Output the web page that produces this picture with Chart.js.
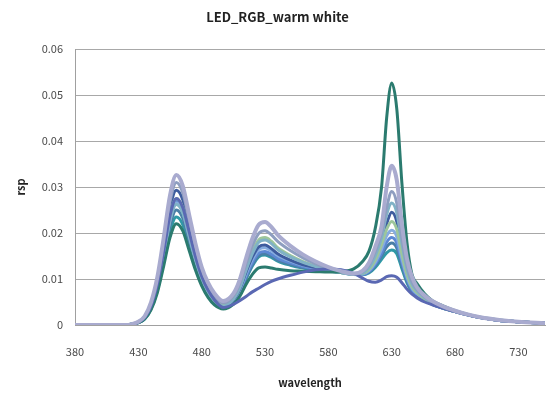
<!DOCTYPE html>
<html><head><meta charset="utf-8">
<script src="https://cdn.jsdelivr.net/npm/chart.js@4/dist/chart.umd.min.js"></script>
<style>html,body{margin:0;padding:0;background:#fff;}#wrap{width:550px;height:395px;}</style>
</head><body><div id="wrap"><canvas id="c" width="550" height="395"></canvas></div>
<script>
const wavelengths = [380,420,425,430,435,440,445,450,455,460,465,470,475,480,485,490,497,505,510,515,520,525,530,535,540,550,560,570,580,590,600,607,612,617,622,626,630,634,638,642,646,650,656,662,670,680,690,700,715,730,751];
const xTicks = [380,430,480,530,580,630,680,730];
const yTicks = [0,0.01,0.02,0.03,0.04,0.05,0.06];

const sLavender = [0,0,0.0002,0.0007,0.0019,0.0049,0.0104,0.0189,0.0282,0.0326,
0.0303,0.0241,0.0178,0.0126,0.0092,0.0069,0.0052,0.0068,0.0098,0.0145,
0.0188,0.0218,0.0224,0.0213,0.0196,0.0172,0.0153,0.0138,0.0126,0.0117,
0.0112,0.0118,0.0135,0.0170,0.0215,0.0300,0.0346,0.0315,0.0220,0.0145,
0.0105,0.0082,0.0064,0.0052,0.0041,0.0031,0.0023,0.0017,0.0011,0.0007,0.0004];
const sDarkTeal = [0,0,0.0001,0.0005,0.0013,0.0033,0.0070,0.0128,0.0190,0.0220,
0.0205,0.0163,0.0120,0.0085,0.0060,0.0044,0.0035,0.0045,0.0062,0.0088,
0.0110,0.0124,0.0126,0.0124,0.0121,0.0118,0.0117,0.0116,0.0115,0.0116,
0.0122,0.0138,0.0160,0.0210,0.0300,0.0450,0.0526,0.0470,0.0310,0.0180,
0.0110,0.0090,0.0068,0.0053,0.0042,0.0031,0.0023,0.0017,0.0011,0.0007,0.0004];
const sSlate = [0,0,0.0001,0.0006,0.0016,0.0041,0.0088,0.0160,0.0238,0.0275,
0.0256,0.0204,0.0150,0.0106,0.0076,0.0055,0.0038,0.0045,0.0053,0.0062,
0.0072,0.0080,0.0088,0.0095,0.0100,0.0108,0.0115,0.0120,0.0122,0.0120,
0.0112,0.0102,0.0095,0.0093,0.0098,0.0105,0.0107,0.0104,0.0092,0.0078,
0.0067,0.0059,0.0050,0.0044,0.0037,0.0029,0.0022,0.0016,0.0010,0.0007,0.0004];
const sGrayBlue = [0,0,0.0002,0.0007,0.0018,0.0047,0.0099,0.0180,0.0268,0.0310,
0.0288,0.0229,0.0169,0.0120,0.0086,0.0063,0.0048,0.0063,0.0090,0.0133,
0.0172,0.0199,0.0205,0.0196,0.0182,0.0162,0.0146,0.0133,0.0123,0.0115,
0.0111,0.0116,0.0130,0.0160,0.0200,0.0255,0.0290,0.0265,0.0190,0.0130,
0.0094,0.0077,0.0061,0.0050,0.0040,0.0030,0.0022,0.0016,0.0010,0.0007,0.0004];
const sNavy = [0,0,0.0002,0.0006,0.0017,0.0044,0.0094,0.0170,0.0254,0.0293,
0.0273,0.0217,0.0160,0.0113,0.0080,0.0057,0.0042,0.0055,0.0078,0.0115,
0.0148,0.0170,0.0174,0.0166,0.0155,0.0141,0.0131,0.0125,0.0120,0.0115,
0.0111,0.0113,0.0122,0.0145,0.0180,0.0220,0.0245,0.0225,0.0165,0.0115,
0.0086,0.0072,0.0058,0.0048,0.0039,0.0030,0.0022,0.0016,0.0010,0.0007,0.0004];
const sLightGreen = [0,0,0.0002,0.0006,0.0016,0.0041,0.0088,0.0160,0.0238,0.0275,
0.0256,0.0204,0.0150,0.0106,0.0076,0.0055,0.0043,0.0058,0.0083,0.0124,
0.0160,0.0185,0.0190,0.0182,0.0168,0.0151,0.0138,0.0128,0.0120,0.0114,
0.0110,0.0112,0.0120,0.0141,0.0175,0.0208,0.0225,0.0208,0.0155,0.0110,
0.0083,0.0070,0.0057,0.0047,0.0038,0.0029,0.0022,0.0016,0.0010,0.0007,0.0004];
const sTeal = [0,0,0.0001,0.0005,0.0013,0.0035,0.0075,0.0136,0.0203,0.0235,
0.0219,0.0174,0.0128,0.0090,0.0064,0.0047,0.0036,0.0048,0.0068,0.0100,
0.0128,0.0148,0.0152,0.0147,0.0139,0.0130,0.0124,0.0120,0.0117,0.0114,
0.0110,0.0109,0.0113,0.0125,0.0143,0.0157,0.0163,0.0155,0.0123,0.0092,
0.0072,0.0063,0.0053,0.0045,0.0037,0.0029,0.0022,0.0016,0.0010,0.0007,0.0004];
const sLightBlue = [0,0,0.0002,0.0006,0.0015,0.0040,0.0085,0.0154,0.0229,0.0265,
0.0246,0.0196,0.0144,0.0102,0.0073,0.0052,0.0040,0.0053,0.0075,0.0110,
0.0142,0.0164,0.0168,0.0161,0.0151,0.0139,0.0130,0.0124,0.0119,0.0114,
0.0110,0.0111,0.0118,0.0136,0.0165,0.0194,0.0206,0.0192,0.0145,0.0105,
0.0080,0.0068,0.0056,0.0047,0.0038,0.0029,0.0022,0.0016,0.0010,0.0007,0.0004];
const sMedBlue = [0,0,0.0002,0.0006,0.0015,0.0040,0.0086,0.0157,0.0234,0.0270,
0.0251,0.0200,0.0147,0.0104,0.0074,0.0053,0.0040,0.0052,0.0072,0.0106,
0.0136,0.0156,0.0160,0.0154,0.0145,0.0135,0.0127,0.0122,0.0118,0.0114,
0.0110,0.0110,0.0116,0.0132,0.0156,0.0180,0.0190,0.0178,0.0137,0.0100,
0.0077,0.0066,0.0055,0.0046,0.0038,0.0029,0.0022,0.0016,0.0010,0.0007,0.0004];
const sSteel = [0,0,0.0001,0.0005,0.0014,0.0037,0.0080,0.0145,0.0216,0.0250,
0.0233,0.0185,0.0136,0.0096,0.0068,0.0049,0.0038,0.0050,0.0070,0.0102,
0.0131,0.0151,0.0155,0.0150,0.0141,0.0132,0.0125,0.0121,0.0117,0.0114,
0.0110,0.0110,0.0115,0.0129,0.0150,0.0170,0.0178,0.0167,0.0130,0.0096,
0.0074,0.0064,0.0054,0.0045,0.0037,0.0029,0.0022,0.0016,0.0010,0.0007,0.0004];
const sCyanGray = [0,0,0.0002,0.0006,0.0015,0.0039,0.0084,0.0152,0.0227,0.0262,
0.0244,0.0194,0.0143,0.0101,0.0072,0.0052,0.0041,0.0056,0.0080,0.0119,
0.0155,0.0180,0.0185,0.0177,0.0164,0.0148,0.0136,0.0127,0.0119,0.0114,
0.0110,0.0113,0.0124,0.0150,0.0190,0.0240,0.0265,0.0244,0.0178,0.0122,
0.0089,0.0074,0.0059,0.0048,0.0039,0.0030,0.0022,0.0016,0.0010,0.0007,0.0004];

const seriesList = [
  {name:'s1', data:sLavender, color:'#a9abcf', w:4},
  {name:'s2', data:sSlate, color:'#5a68b3', w:3},
  {name:'s3', data:sDarkTeal, color:'#2b7b6f', w:3},
  {name:'s4', data:sGrayBlue, color:'#8e9ec0', w:3},
  {name:'s5', data:sCyanGray, color:'#80b2c6', w:3},
  {name:'s6', data:sLightGreen, color:'#9dc69b', w:3},
  {name:'s7', data:sNavy, color:'#3e5c9e', w:3},
  {name:'s8', data:sLightBlue, color:'#86acdf', w:3},
  {name:'s9', data:sMedBlue, color:'#5c88d4', w:3},
  {name:'s10', data:sSteel, color:'#4a7fa6', w:3},
  {name:'s11', data:sTeal, color:'#2f99a6', w:3}
];

const FONT = "'Noto Sans CJK KR','Open Sans',sans-serif";
const datasets = seriesList.map(s => ({
  label: s.name,
  data: wavelengths.map((x,i) => ({x:x, y:s.data[i]})),
  borderColor: s.color,
  backgroundColor: s.color,
  borderWidth: s.w,
  pointRadius: 0,
  cubicInterpolationMode: 'monotone',
  fill: false
}));

new Chart(document.getElementById('c'), {
  type: 'line',
  data: { datasets },
  options: {
    responsive: false,
    animation: false,
    layout: { padding: { left: 10, right: 5, top: 0, bottom: 0 } },
    plugins: {
      legend: { display: false },
      tooltip: { enabled: false },
      title: {
        display: true,
        text: 'LED_RGB_warm white',
        color: '#222',
        font: { family: FONT, size: 13, weight: 'bold' },
        padding: { top: 9, bottom: 24.4 }
      }
    },
    scales: {
      x: {
        type: 'linear',
        min: 380, max: 751,
        afterBuildTicks: (s) => { s.ticks = xTicks.map(v => ({value: v})); },
        afterFit: (s) => { s.height = 70; },
        grid: { display: false, drawTicks: false },
        border: { display: true, color: '#a0a0a0', width: 1 },
        ticks: { color: '#4a4a4a', font: { family: FONT, size: 11 }, padding: 20, maxRotation: 0, autoSkip: false },
        title: { display: true, text: 'wavelength', color: '#222', font: { family: FONT, size: 11, weight: 'bold' }, padding: { top: 6, bottom: 6 } }
      },
      y: {
        min: 0, max: 0.06,
        afterBuildTicks: (s) => { s.ticks = yTicks.map(v => ({value: v})); },
        afterFit: (s) => { s.width = 65; },
        grid: { color: '#a8a8a8', lineWidth: 1, drawTicks: false },
        border: { display: true, color: '#a0a0a0', width: 1 },
        ticks: { color: '#4a4a4a', font: { family: FONT, size: 11 }, padding: 12, callback: (v) => String(v) },
        title: { display: true, text: 'rsp', color: '#222', font: { family: FONT, size: 11, weight: 'bold' }, padding: { top: 4, bottom: 4 } }
      }
    }
  }
});
</script></body></html>
